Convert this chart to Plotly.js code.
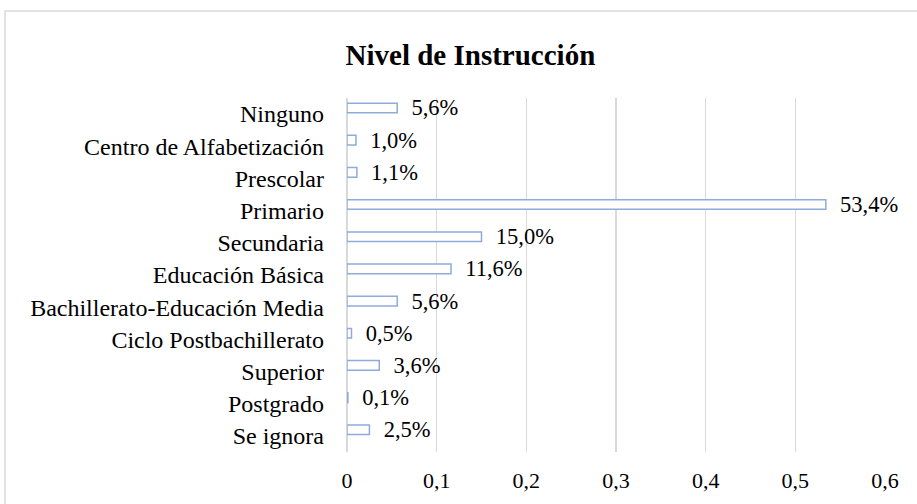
<!DOCTYPE html>
<html>
<head>
<meta charset="utf-8">
<script src="https://cdn.plot.ly/plotly-3.0.1.min.js"></script>
<style>
  html, body { margin: 0; padding: 0; background: #ffffff; }
  #chart { width: 917px; height: 504px; }
</style>
</head>
<body>
<div id="chart"></div>
<script>
// ---- data ----
var categories = [
  "Ninguno",
  "Centro de Alfabetización",
  "Prescolar",
  "Primario",
  "Secundaria",
  "Educación Básica",
  "Bachillerato-Educación Media",
  "Ciclo Postbachillerato",
  "Superior",
  "Postgrado",
  "Se ignora"
];
var shares = [0.056, 0.010, 0.011, 0.534, 0.150, 0.116, 0.056, 0.005, 0.036, 0.001, 0.025];
var xTickValues = [0, 0.1, 0.2, 0.3, 0.4, 0.5, 0.6];
var chartTitle = "Nivel de Instrucción";

// ---- derived labels ----
var NB = "\u00A0";
var dataLabels = shares.map(function (v) {
  return NB + NB + (v * 100).toFixed(1).replace(".", ",") + "%";
});

var serif = "Liberation Serif, Times New Roman, serif";

var trace = {
  type: "bar",
  orientation: "h",
  y: categories,
  x: shares,
  width: 0.3,
  offset: -0.34,
  marker: { color: "#ffffff", line: { color: "#8faadc", width: 1.5 } },
  text: dataLabels,
  textposition: "outside",
  constraintext: "none",
  cliponaxis: false,
  textfont: { family: serif, size: 22.5, color: "#000000" },
  hoverinfo: "skip"
};

var layout = {
  width: 917,
  height: 504,
  margin: { l: 347, r: 32, t: 98, b: 52, pad: 0 },
  paper_bgcolor: "#ffffff",
  plot_bgcolor: "#ffffff",
  separators: ",.",
  showlegend: false,
  title: {
    text: "<b>" + chartTitle + "</b>",
    font: { family: serif, size: 29, color: "#000000" },
    xref: "container", x: 0.513, xanchor: "center",
    yref: "container", y: 0.891, yanchor: "middle"
  },
  xaxis: {
    range: [0, 0.6],
    tickvals: xTickValues,
    showgrid: true,
    gridcolor: "#d9d9d9",
    gridwidth: 1.5,
    zeroline: true,
    zerolinecolor: "#d9d9d9",
    zerolinewidth: 1.5,
    showline: false,
    ticks: "",
    ticklabelstandoff: 13,
    tickfont: { family: serif, size: 22, color: "#000000" },
    fixedrange: true
  },
  yaxis: {
    type: "category",
    autorange: "reversed",
    showgrid: false,
    zeroline: false,
    showline: false,
    ticks: "",
    ticklabelstandoff: 22,
    tickfont: { family: serif, size: 24, color: "#000000" },
    fixedrange: true
  },
  shapes: [{
    type: "rect", xref: "paper", yref: "paper", layer: "below",
    x0: -0.6357, x1: 1.2, y0: -0.5, y1: 1.2458,
    line: { color: "#d9d9d9", width: 1.5 }, fillcolor: "rgba(0,0,0,0)"
  }]
};

Plotly.newPlot("chart", [trace], layout, { staticPlot: true, displayModeBar: false });
</script>
</body>
</html>
